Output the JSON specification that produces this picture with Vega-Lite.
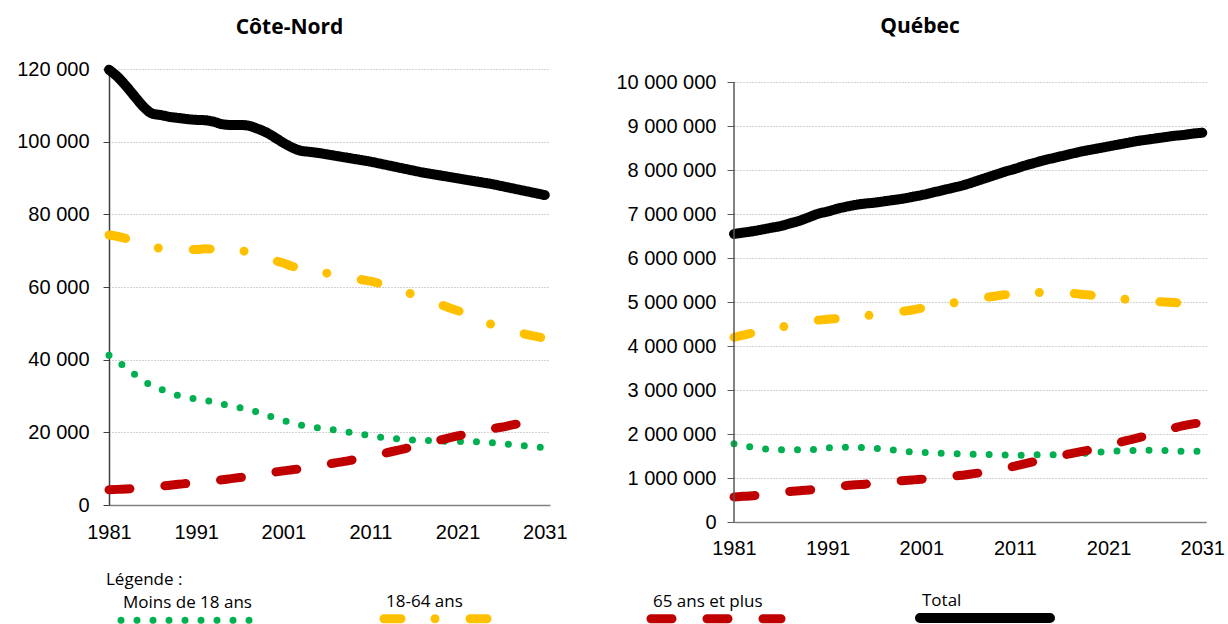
{
  "$schema": "https://vega.github.io/schema/vega-lite/v6.json",
  "background": "white",
  "padding": {"left": 16, "top": 16, "right": 0, "bottom": 0},
  "config": {
    "locale": {"number": {"decimal": ",", "thousands": " ", "grouping": [3], "currency": ["", " $"]}},
    "view": {"stroke": null},
    "font": "Liberation Sans",
    "concat": {"spacing": 47},
    "title": {"font": "Open Sans", "fontSize": 21, "fontWeight": "bold", "color": "black", "anchor": "middle"},
    "axis": {"labelFont": "Liberation Sans", "labelFontSize": 20, "labelColor": "black", "title": null},
    "legend": {
      "orient": "none", "legendX": -3, "legendY": 503, "direction": "horizontal", "columns": 4,
      "columnPadding": 101, "symbolType": "stroke", "symbolSize": 16900, "symbolStrokeWidth": 8, "symbolOffset": 10,
      "labelOffset": -133, "labelFont": "Open Sans", "labelFontSize": 17, "labelColor": "black", "labelLimit": 300,
      "labelBaseline": "alphabetic",
      "titleFont": "Open Sans", "titleFontSize": 17, "titleFontWeight": "normal", "titleColor": "black", "titlePadding": -41
    }
  },
  "datasets": {
    "cn": [
      {"annee":1981,"Moins de 18 ans":41200,"18-64 ans":74300,"65 ans et plus":4200,"Total":119800},
      {"annee":1982,"Moins de 18 ans":39800,"18-64 ans":73900,"65 ans et plus":4300,"Total":117800},
      {"annee":1983,"Moins de 18 ans":37400,"18-64 ans":73300,"65 ans et plus":4400,"Total":115200},
      {"annee":1984,"Moins de 18 ans":35900,"18-64 ans":72600,"65 ans et plus":4550,"Total":112300},
      {"annee":1985,"Moins de 18 ans":34100,"18-64 ans":71800,"65 ans et plus":4750,"Total":109500},
      {"annee":1986,"Moins de 18 ans":32800,"18-64 ans":71100,"65 ans et plus":4950,"Total":107700},
      {"annee":1987,"Moins de 18 ans":31800,"18-64 ans":70600,"65 ans et plus":5200,"Total":107300},
      {"annee":1988,"Moins de 18 ans":30900,"18-64 ans":70400,"65 ans et plus":5450,"Total":106800},
      {"annee":1989,"Moins de 18 ans":30100,"18-64 ans":70300,"65 ans et plus":5700,"Total":106500},
      {"annee":1990,"Moins de 18 ans":29600,"18-64 ans":70300,"65 ans et plus":5950,"Total":106200},
      {"annee":1991,"Moins de 18 ans":29200,"18-64 ans":70300,"65 ans et plus":6200,"Total":106000},
      {"annee":1992,"Moins de 18 ans":28800,"18-64 ans":70500,"65 ans et plus":6450,"Total":105900},
      {"annee":1993,"Moins de 18 ans":28400,"18-64 ans":70400,"65 ans et plus":6700,"Total":105500},
      {"annee":1994,"Moins de 18 ans":27800,"18-64 ans":70100,"65 ans et plus":6950,"Total":104800},
      {"annee":1995,"Moins de 18 ans":27200,"18-64 ans":70000,"65 ans et plus":7250,"Total":104600},
      {"annee":1996,"Moins de 18 ans":26800,"18-64 ans":69900,"65 ans et plus":7550,"Total":104600},
      {"annee":1997,"Moins de 18 ans":26200,"18-64 ans":69800,"65 ans et plus":7850,"Total":104400},
      {"annee":1998,"Moins de 18 ans":25600,"18-64 ans":69200,"65 ans et plus":8250,"Total":103600},
      {"annee":1999,"Moins de 18 ans":24800,"18-64 ans":68300,"65 ans et plus":8650,"Total":102600},
      {"annee":2000,"Moins de 18 ans":24000,"18-64 ans":67300,"65 ans et plus":9050,"Total":101200},
      {"annee":2001,"Moins de 18 ans":23300,"18-64 ans":66600,"65 ans et plus":9400,"Total":99700},
      {"annee":2002,"Moins de 18 ans":22600,"18-64 ans":65700,"65 ans et plus":9700,"Total":98400},
      {"annee":2003,"Moins de 18 ans":22000,"18-64 ans":65200,"65 ans et plus":10000,"Total":97500},
      {"annee":2004,"Moins de 18 ans":21500,"18-64 ans":64700,"65 ans et plus":10400,"Total":97200},
      {"annee":2005,"Moins de 18 ans":21200,"18-64 ans":64200,"65 ans et plus":10800,"Total":96900},
      {"annee":2006,"Moins de 18 ans":20900,"18-64 ans":63800,"65 ans et plus":11200,"Total":96500},
      {"annee":2007,"Moins de 18 ans":20600,"18-64 ans":63500,"65 ans et plus":11600,"Total":96100},
      {"annee":2008,"Moins de 18 ans":20200,"18-64 ans":63000,"65 ans et plus":12000,"Total":95700},
      {"annee":2009,"Moins de 18 ans":19900,"18-64 ans":62500,"65 ans et plus":12450,"Total":95300},
      {"annee":2010,"Moins de 18 ans":19500,"18-64 ans":62000,"65 ans et plus":12900,"Total":94900},
      {"annee":2011,"Moins de 18 ans":19100,"18-64 ans":61600,"65 ans et plus":13400,"Total":94500},
      {"annee":2012,"Moins de 18 ans":18700,"18-64 ans":61000,"65 ans et plus":13900,"Total":94000},
      {"annee":2013,"Moins de 18 ans":18400,"18-64 ans":60300,"65 ans et plus":14450,"Total":93500},
      {"annee":2014,"Moins de 18 ans":18200,"18-64 ans":59500,"65 ans et plus":15000,"Total":93000},
      {"annee":2015,"Moins de 18 ans":18000,"18-64 ans":58700,"65 ans et plus":15550,"Total":92500},
      {"annee":2016,"Moins de 18 ans":17900,"18-64 ans":57800,"65 ans et plus":16150,"Total":92000},
      {"annee":2017,"Moins de 18 ans":17800,"18-64 ans":57000,"65 ans et plus":16750,"Total":91500},
      {"annee":2018,"Moins de 18 ans":17700,"18-64 ans":56100,"65 ans et plus":17350,"Total":91100},
      {"annee":2019,"Moins de 18 ans":17600,"18-64 ans":55200,"65 ans et plus":17900,"Total":90700},
      {"annee":2020,"Moins de 18 ans":17500,"18-64 ans":54300,"65 ans et plus":18450,"Total":90300},
      {"annee":2021,"Moins de 18 ans":17450,"18-64 ans":53500,"65 ans et plus":19000,"Total":89900},
      {"annee":2022,"Moins de 18 ans":17450,"18-64 ans":52500,"65 ans et plus":19550,"Total":89500},
      {"annee":2023,"Moins de 18 ans":17400,"18-64 ans":51500,"65 ans et plus":20050,"Total":89100},
      {"annee":2024,"Moins de 18 ans":17250,"18-64 ans":50500,"65 ans et plus":20550,"Total":88700},
      {"annee":2025,"Moins de 18 ans":17100,"18-64 ans":49600,"65 ans et plus":21000,"Total":88300},
      {"annee":2026,"Moins de 18 ans":16950,"18-64 ans":48800,"65 ans et plus":21400,"Total":87800},
      {"annee":2027,"Moins de 18 ans":16700,"18-64 ans":48100,"65 ans et plus":21900,"Total":87300},
      {"annee":2028,"Moins de 18 ans":16450,"18-64 ans":47500,"65 ans et plus":22400,"Total":86800},
      {"annee":2029,"Moins de 18 ans":16200,"18-64 ans":46900,"65 ans et plus":22900,"Total":86300},
      {"annee":2030,"Moins de 18 ans":16000,"18-64 ans":46400,"65 ans et plus":23300,"Total":85800},
      {"annee":2031,"Moins de 18 ans":15800,"18-64 ans":45900,"65 ans et plus":23700,"Total":85300}
    ],
    "qc": [
      {"annee":1981,"Moins de 18 ans":1780000,"18-64 ans":4200000,"65 ans et plus":570000,"Total":6550000},
      {"annee":1982,"Moins de 18 ans":1730000,"18-64 ans":4250000,"65 ans et plus":583000,"Total":6580000},
      {"annee":1983,"Moins de 18 ans":1700000,"18-64 ans":4300000,"65 ans et plus":597000,"Total":6610000},
      {"annee":1984,"Moins de 18 ans":1670000,"18-64 ans":4350000,"65 ans et plus":620000,"Total":6650000},
      {"annee":1985,"Moins de 18 ans":1650000,"18-64 ans":4390000,"65 ans et plus":645000,"Total":6690000},
      {"annee":1986,"Moins de 18 ans":1640000,"18-64 ans":4430000,"65 ans et plus":670000,"Total":6730000},
      {"annee":1987,"Moins de 18 ans":1640000,"18-64 ans":4470000,"65 ans et plus":695000,"Total":6790000},
      {"annee":1988,"Moins de 18 ans":1640000,"18-64 ans":4510000,"65 ans et plus":710000,"Total":6850000},
      {"annee":1989,"Moins de 18 ans":1645000,"18-64 ans":4550000,"65 ans et plus":727000,"Total":6930000},
      {"annee":1990,"Moins de 18 ans":1660000,"18-64 ans":4590000,"65 ans et plus":755000,"Total":7010000},
      {"annee":1991,"Moins de 18 ans":1685000,"18-64 ans":4610000,"65 ans et plus":785000,"Total":7060000},
      {"annee":1992,"Moins de 18 ans":1695000,"18-64 ans":4625000,"65 ans et plus":810000,"Total":7120000},
      {"annee":1993,"Moins de 18 ans":1700000,"18-64 ans":4640000,"65 ans et plus":828000,"Total":7170000},
      {"annee":1994,"Moins de 18 ans":1695000,"18-64 ans":4660000,"65 ans et plus":845000,"Total":7210000},
      {"annee":1995,"Moins de 18 ans":1690000,"18-64 ans":4690000,"65 ans et plus":860000,"Total":7240000},
      {"annee":1996,"Moins de 18 ans":1675000,"18-64 ans":4710000,"65 ans et plus":875000,"Total":7260000},
      {"annee":1997,"Moins de 18 ans":1660000,"18-64 ans":4730000,"65 ans et plus":895000,"Total":7290000},
      {"annee":1998,"Moins de 18 ans":1635000,"18-64 ans":4760000,"65 ans et plus":920000,"Total":7320000},
      {"annee":1999,"Moins de 18 ans":1610000,"18-64 ans":4790000,"65 ans et plus":940000,"Total":7350000},
      {"annee":2000,"Moins de 18 ans":1595000,"18-64 ans":4820000,"65 ans et plus":955000,"Total":7390000},
      {"annee":2001,"Moins de 18 ans":1585000,"18-64 ans":4860000,"65 ans et plus":972000,"Total":7430000},
      {"annee":2002,"Moins de 18 ans":1580000,"18-64 ans":4890000,"65 ans et plus":995000,"Total":7480000},
      {"annee":2003,"Moins de 18 ans":1565000,"18-64 ans":4930000,"65 ans et plus":1020000,"Total":7530000},
      {"annee":2004,"Moins de 18 ans":1555000,"18-64 ans":4970000,"65 ans et plus":1040000,"Total":7580000},
      {"annee":2005,"Moins de 18 ans":1550000,"18-64 ans":5000000,"65 ans et plus":1055000,"Total":7630000},
      {"annee":2006,"Moins de 18 ans":1545000,"18-64 ans":5040000,"65 ans et plus":1080000,"Total":7690000},
      {"annee":2007,"Moins de 18 ans":1540000,"18-64 ans":5080000,"65 ans et plus":1110000,"Total":7760000},
      {"annee":2008,"Moins de 18 ans":1535000,"18-64 ans":5110000,"65 ans et plus":1150000,"Total":7830000},
      {"annee":2009,"Moins de 18 ans":1530000,"18-64 ans":5140000,"65 ans et plus":1190000,"Total":7900000},
      {"annee":2010,"Moins de 18 ans":1525000,"18-64 ans":5170000,"65 ans et plus":1230000,"Total":7970000},
      {"annee":2011,"Moins de 18 ans":1520000,"18-64 ans":5190000,"65 ans et plus":1270000,"Total":8030000},
      {"annee":2012,"Moins de 18 ans":1520000,"18-64 ans":5200000,"65 ans et plus":1320000,"Total":8100000},
      {"annee":2013,"Moins de 18 ans":1525000,"18-64 ans":5210000,"65 ans et plus":1370000,"Total":8160000},
      {"annee":2014,"Moins de 18 ans":1530000,"18-64 ans":5220000,"65 ans et plus":1420000,"Total":8220000},
      {"annee":2015,"Moins de 18 ans":1530000,"18-64 ans":5220000,"65 ans et plus":1470000,"Total":8270000},
      {"annee":2016,"Moins de 18 ans":1535000,"18-64 ans":5210000,"65 ans et plus":1515000,"Total":8320000},
      {"annee":2017,"Moins de 18 ans":1540000,"18-64 ans":5200000,"65 ans et plus":1555000,"Total":8370000},
      {"annee":2018,"Moins de 18 ans":1555000,"18-64 ans":5180000,"65 ans et plus":1600000,"Total":8420000},
      {"annee":2019,"Moins de 18 ans":1570000,"18-64 ans":5160000,"65 ans et plus":1640000,"Total":8460000},
      {"annee":2020,"Moins de 18 ans":1590000,"18-64 ans":5140000,"65 ans et plus":1690000,"Total":8500000},
      {"annee":2021,"Moins de 18 ans":1605000,"18-64 ans":5110000,"65 ans et plus":1740000,"Total":8540000},
      {"annee":2022,"Moins de 18 ans":1615000,"18-64 ans":5090000,"65 ans et plus":1800000,"Total":8580000},
      {"annee":2023,"Moins de 18 ans":1620000,"18-64 ans":5060000,"65 ans et plus":1855000,"Total":8620000},
      {"annee":2024,"Moins de 18 ans":1625000,"18-64 ans":5040000,"65 ans et plus":1905000,"Total":8660000},
      {"annee":2025,"Moins de 18 ans":1630000,"18-64 ans":5020000,"65 ans et plus":1960000,"Total":8690000},
      {"annee":2026,"Moins de 18 ans":1630000,"18-64 ans":5010000,"65 ans et plus":2020000,"Total":8720000},
      {"annee":2027,"Moins de 18 ans":1625000,"18-64 ans":5000000,"65 ans et plus":2080000,"Total":8750000},
      {"annee":2028,"Moins de 18 ans":1615000,"18-64 ans":4990000,"65 ans et plus":2140000,"Total":8780000},
      {"annee":2029,"Moins de 18 ans":1610000,"18-64 ans":4980000,"65 ans et plus":2190000,"Total":8800000},
      {"annee":2030,"Moins de 18 ans":1610000,"18-64 ans":4970000,"65 ans et plus":2230000,"Total":8830000},
      {"annee":2031,"Moins de 18 ans":1610000,"18-64 ans":4960000,"65 ans et plus":2265000,"Total":8850000}
    ]
  },
  "hconcat": [
    {
      "title": {"text": "Côte-Nord", "offset": 21, "dx": -40},
      "width": 441,
      "height": 436,
      "data": {"name": "cn"},
      "transform": [{"fold": ["Moins de 18 ans", "18-64 ans", "65 ans et plus", "Total"], "as": ["groupe", "valeur"]}],
      "mark": {"type": "line", "strokeCap": "round", "strokeJoin": "round", "interpolate": "monotone"},
      "encoding": {
        "x": {"field": "annee", "type": "quantitative",
          "scale": {"domain": [1981, 2031.6], "nice": false, "zero": false},
          "axis": {"values": [1981, 1991, 2001, 2011, 2021, 2031], "format": "d", "grid": false, "ticks": false, "labelPadding": 17, "domainColor": "#808080", "domainWidth": 1.5, "labelFlush": false}},
        "y": {"field": "valeur", "type": "quantitative",
          "scale": {"domain": [0, 120000], "nice": false},
          "axis": {"values": [0, 20000, 40000, 60000, 80000, 100000, 120000], "format": ",.0f", "grid": true, "gridDash": [1, 2], "gridColor": "#a6a6a6", "tickSize": 6, "tickColor": "#404040", "labelPadding": 14, "domainColor": "#404040", "domainWidth": 1.5}},
        "color": {"field": "groupe", "type": "nominal", "title": "Légende :",
          "scale": {"domain": ["Moins de 18 ans", "18-64 ans", "65 ans et plus", "Total"], "range": ["#00b050", "#ffc000", "#c00000", "#000000"]},
          "legend": {"encode": {"labels": {"update": {"dy": {"value": -12}}}, "symbols": {"update": {"strokeCap": {"value": "round"}}}}}},
        "strokeDash": {"field": "groupe", "type": "nominal", "title": "Légende :",
          "scale": {"domain": ["Moins de 18 ans", "18-64 ans", "65 ans et plus", "Total"], "range": [[0, 16], [17, 34, 0, 35], [21, 35], [1, 0]]},
          "legend": {"encode": {"labels": {"update": {"dy": {"value": -12}}}, "symbols": {"update": {"strokeCap": {"value": "round"}}}}}},
        "strokeWidth": {"field": "groupe", "type": "nominal",
          "scale": {"type": "ordinal", "domain": ["Moins de 18 ans", "18-64 ans", "65 ans et plus", "Total"], "range": [7, 9, 9, 10]},
          "legend": null}
      }
    },
    {
      "title": {"text": "Québec", "offset": 32, "dx": -50},
      "width": 472,
      "height": 453,
      "data": {"name": "qc"},
      "layer": [
        {
          "transform": [{"fold": ["Moins de 18 ans", "18-64 ans", "65 ans et plus", "Total"], "as": ["groupe", "valeur"]}],
          "mark": {"type": "line", "strokeCap": "round", "strokeJoin": "round", "interpolate": "monotone"},
          "encoding": {
            "x": {"field": "annee", "type": "quantitative",
              "scale": {"domain": [1981, 2031.4], "nice": false, "zero": false},
              "axis": {"values": [1981, 1991, 2001, 2011, 2021, 2031], "format": "d", "grid": false, "ticks": false, "labelPadding": 16, "domainColor": "#808080", "domainWidth": 1.5, "labelFlush": false}},
            "y": {"field": "valeur", "type": "quantitative",
              "scale": {"domain": [0, 10300000], "nice": false},
              "axis": {"values": [0, 1000000, 2000000, 3000000, 4000000, 5000000, 6000000, 7000000, 8000000, 9000000, 10000000], "format": ",.0f", "grid": true, "gridDash": [1, 2], "gridColor": "#a6a6a6", "tickSize": 7, "tickColor": "#595959", "labelPadding": 11, "domain": false}},
            "color": {"field": "groupe", "type": "nominal", "title": "Légende :",
              "scale": {"domain": ["Moins de 18 ans", "18-64 ans", "65 ans et plus", "Total"], "range": ["#00b050", "#ffc000", "#c00000", "#000000"]},
              "legend": {"encode": {"labels": {"update": {"dy": {"value": -12}}}, "symbols": {"update": {"strokeCap": {"value": "round"}}}}}},
            "strokeDash": {"field": "groupe", "type": "nominal", "title": "Légende :",
              "scale": {"domain": ["Moins de 18 ans", "18-64 ans", "65 ans et plus", "Total"], "range": [[0, 16], [17, 34, 0, 35], [21, 35], [1, 0]]},
              "legend": {"encode": {"labels": {"update": {"dy": {"value": -12}}}, "symbols": {"update": {"strokeCap": {"value": "round"}}}}}},
            "strokeWidth": {"field": "groupe", "type": "nominal",
              "scale": {"type": "ordinal", "domain": ["Moins de 18 ans", "18-64 ans", "65 ans et plus", "Total"], "range": [7, 9, 9, 10]},
              "legend": null}
          }
        },
        {
          "data": {"values": [{}]},
          "mark": {"type": "rule", "color": "#595959", "strokeWidth": 1.5},
          "encoding": {
            "x": {"datum": 1981, "type": "quantitative"},
            "y": {"datum": 0, "type": "quantitative"},
            "y2": {"datum": 10000000}
          }
        }
      ]
    }
  ],
  "resolve": {"scale": {"color": "shared", "strokeDash": "shared", "strokeWidth": "shared"}}
}
